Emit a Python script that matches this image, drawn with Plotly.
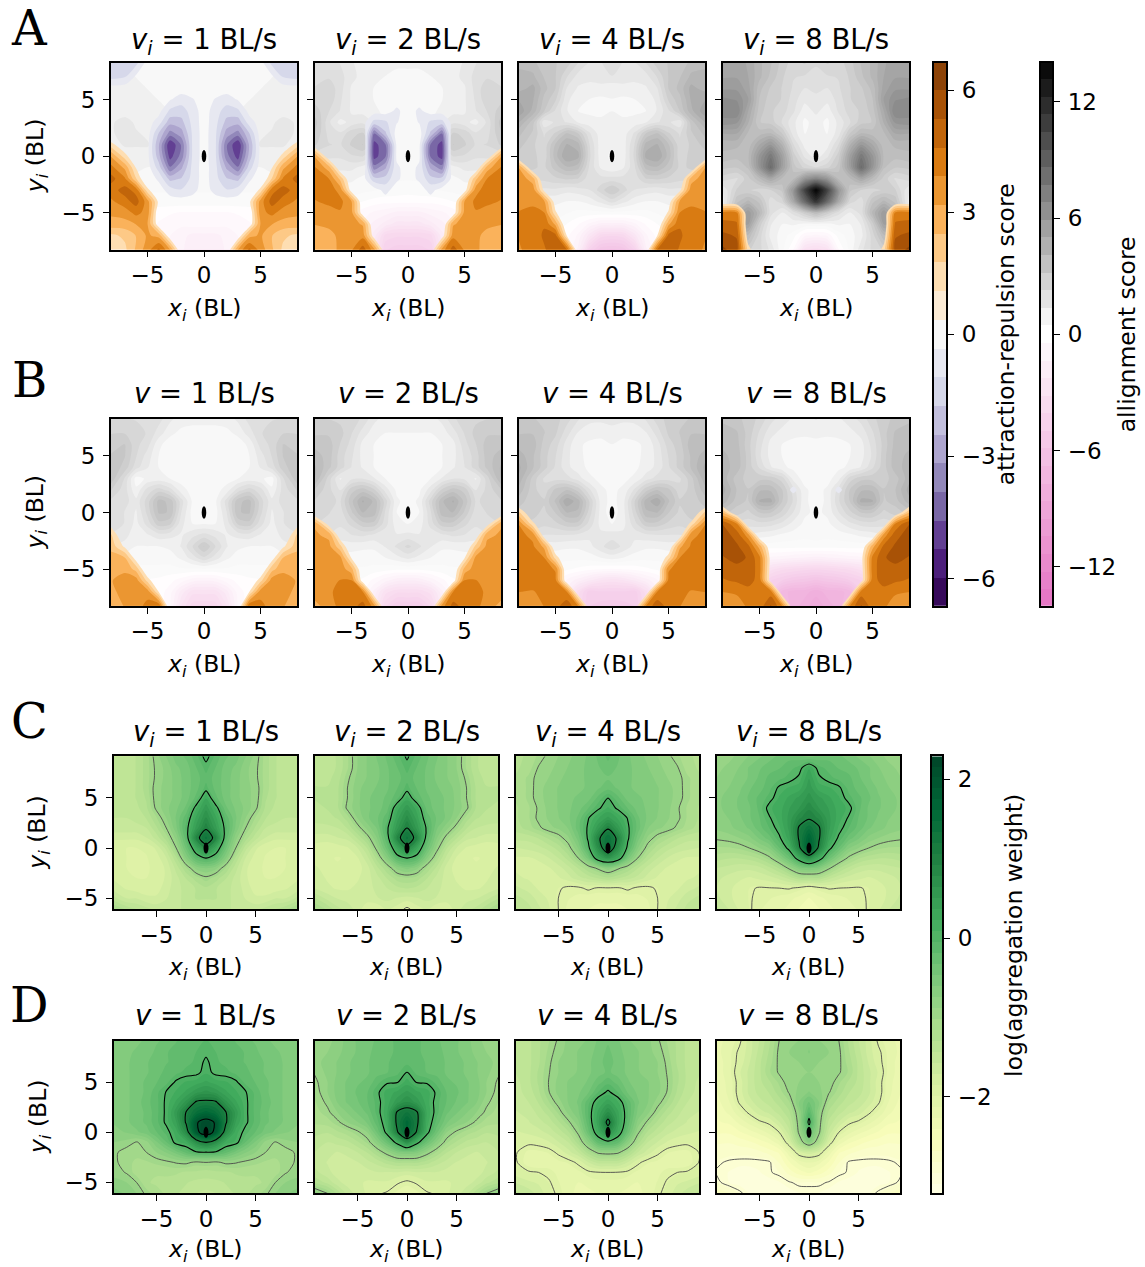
import numpy as np
import plotly.graph_objects as go

W, H = 1145, 1267
HP = 1263.8
V_LABELS = [1, 2, 4, 8]

# half grids (x >= 0), rows listed from top to bottom
X_AB = [0, 1, 2, 3, 4, 5, 6, 7, 8.3]
Y_AB = [8.3, 7, 6, 5, 4, 3, 2, 1, 0, -1, -2, -3, -4, -5, -6, -7, -8.3]
X_CD = [0, 1, 2, 3, 4, 5, 6, 7, 8, 9.3]
Y_CD = [9.2, 8, 7, 6, 5, 4, 3, 2, 1, 0, -1, -2, -3, -4, -5, -6.1]
O = [0, 0, 0, 0, 0, 0, 0, 0, 0]

A1_ALIGN = [[.6,.6,.7,.7,.8,.8,.8,.9,1],[.6,.7,.8,.8,.8,.9,.9,1,1],[.6,.7,.8,.8,.9,.9,1,1,1],[.6,.7,.8,.9,.9,1,1,1,1.1],
[.6,.7,.8,.9,1,1,1.2,1.2,1.2],[.6,.7,.9,1,1,1.2,1.3,1.5,1.3],[.6,.8,.9,1,1.2,1.3,1.4,1.5,1.3],[.6,.8,1,1.2,1.2,1.4,1.4,1.4,1.2],
[.6,.8,1,1.2,1.2,1.2,1.2,1.2,1.2],[.6,.7,.8,.9,.9,.9,1,1,1],[.5,.6,.6,.7,.7,.7,.8,.8,.8],[.5,.5,.5,.5,.5,.5,.5,.5,.5],
[.3,.3,.3,.3,.3,.3,.3,.3,.3],[-.5,-.5,-.5,-.4,-.3,-.2,0,0,0],[-.7,-.7,-.8,-.7,-.5,-.3,0,0,0],[-1.5,-1.5,-1.2,-.9,-.7,-.5,-.2,0,0],[-1.6,-1.6,-1.3,-1,-.7,-.5,-.2,0,0]]
A1_ATTR = [[0,0,0,0,0,-.1,-1.3,-1.5,-1.5],[0,0,0,0,0,0,-.2,-1.1,-1.3],O,[0,-.4,-.7,-.3,0,0,0,0,0],[0,-.7,-1.4,-1.2,-.1,0,0,0,0],
[0,-.8,-2,-2.2,-.7,0,0,0,0],[0,-.9,-2.8,-3.5,-1.8,0,0,0,0],[0,-.9,-3.8,-5.3,-2.4,-.1,0,.2,1.5],[0,-.9,-3.6,-4.9,-2.2,-.1,.1,1.4,3.2],
[0,-.8,-2.6,-3.8,-1.4,0,1,3,4.2],[0,-.8,-1.7,-2,-.5,.1,1.8,4,4.9],[0,-.6,-1,-.7,0,1.3,4.3,4.9,4.2],[0,0,0,0,.8,3.5,4.9,4.3,3.7],
[0,0,0,0,.2,3.6,4.1,3.5,3.3],[0,0,0,0,.4,3.2,3.2,2.9,2.9],[0,0,0,.3,2.9,3.3,2.5,1.9,1.6],[0,0,.2,3.3,4.8,3.6,2.6,1.6,1.2]]

A2_ALIGN = [[1,1,1,1,1.2,1.4,1.8,2,1.8],[.8,.8,.9,1,1.2,1.5,2,2.2,2],[.6,.7,.8,.9,1,1.3,2,2.6,2.3],[.5,.6,.8,.9,1,1.3,1.9,2.6,2.6],
[.5,.6,.8,1,1.2,1.3,1.8,2.3,3],[.5,.6,.9,1.3,1.7,1.5,1.2,1.9,3.5],[.5,.7,1.2,2,2.8,2.6,1.9,2.1,3.2],[.5,.7,1.2,2.2,3.2,2.8,2.2,2.3,2.8],
[.5,.6,1,1.6,2.3,2.2,1.9,1.9,2],[.5,.5,.7,1,1.2,1.5,1.5,1.5,1.5],[.5,.5,.6,.7,.8,1,1,1,1],[.2,.3,.4,.5,.6,.7,.7,.7,.7],
[-.3,-.3,-.3,-.2,0,.2,.3,.3,.3],[-1.5,-1.5,-1.2,-1,-.7,-.4,0,0,0],[-2.5,-2.5,-2,-1.5,-1,-.6,-.2,0,0],[-4,-4,-3.8,-2,-1.2,-.6,-.2,0,0],[-4.8,-4.8,-4.5,-2.4,-1.2,-.6,-.2,0,0]]
A2_ATTR = [O,O,O,O,[0,-.5,0,0,0,0,0,0,0],[0,-.4,-1.2,-1.3,0,0,0,0,0],[0,0,-1.9,-3.9,.7,0,0,0,0],[0,-.2,-4,-4.9,1,0,0,0,.5],
[0,-.2,-4,-4.9,1,0,0,.3,3.2],[0,-.5,-2.6,-3.6,.6,0,.2,2.8,4],[0,-.5,-1.5,-1.5,0,.1,2.3,3.9,4.4],[0,0,-.6,0,0,.6,3.6,4.3,4.2],
[0,0,0,0,.2,3.2,4.1,4.1,3.8],[0,0,0,0,.5,3.4,3.8,3.5,3.3],[0,0,0,0,3.1,3.4,3.4,3.3,3.2],[0,0,0,.5,3.6,3.8,3.3,3,2.7],[0,0,.3,3.5,5,3.8,3.3,2.9,2.7]]

A3_ALIGN = [[2,1.8,1.8,2.3,3,3.2,3.2,3.8,3.9],[1.8,1.6,1.5,1.6,2.3,3.2,3.6,4.2,4.3],[1,1.2,1.2,1.3,1.8,3.2,3.8,4.7,4.3],[.9,.8,.9,1,1.5,2.8,3.5,4.6,5],
[.9,.8,.8,.9,1.4,2.2,3.2,4.4,5.4],[1.2,1,1.1,1.3,1.8,1.9,1.5,3.4,4.6],[1.3,1.1,1.9,3.2,3.7,2.8,2.2,3.1,3.8],[1,1.1,2.3,4.3,4.6,3.7,2.4,2.8,3.4],
[.8,1.1,2.4,4.7,5,3.9,2.4,2.9,3],[1,1.3,2.2,3.8,4,3.4,2.6,2.8,2.9],[2,2,2,2.7,2.8,2.6,2.4,2.4,2.2],[3.2,2.5,1.8,1.6,1.5,1.7,1.7,1.7,1.5],
[2,1.5,1.1,.9,.9,1,1,1,1],[.3,.3,.3,.3,.5,.7,.7,.7,.7],[-1.5,-1.5,-1,-.4,0,.3,.5,.5,.5],[-4,-3.8,-2.5,-1,-.3,0,.2,.2,.2],[-6,-5.8,-4.5,-1.5,-.5,0,.2,.2,.2]]
A3_ATTR = [O,O,O,O,O,O,O,O,[0,0,0,0,0,0,0,0,.2],[0,0,0,0,0,0,0,0,3.4],[0,0,0,0,0,0,0,2.8,3.7],[0,0,0,0,0,0,.8,3.6,3.8],
[0,0,0,0,0,.5,3.3,3.7,3.7],[0,0,0,0,0,1.2,3.9,4.1,3.9],[0,0,0,0,0,3,4.5,4.2,3.9],[0,0,0,0,1,4.8,4.7,4.2,3.9],[0,0,0,.2,4.8,5,4.5,4.1,3.8]]

A4_ALIGN = [[2.3,2.8,2.5,3,3.7,4.2,4.9,5.3,5.3],[2.2,2.2,2.3,2.8,3.5,4.2,5,5.4,5.4],[2,1.8,2.2,2.7,3.1,3.8,5.2,5.8,5.8],[1.6,1.5,2,2.7,2.9,3.6,5.5,6.3,6.5],
[1.5,1.1,1.9,2.5,2.8,3.4,5,6.8,6.6],[1.1,.8,1.5,2.2,3,3.2,4.6,6,6.2],[1,.9,1.6,3.2,4.1,3.9,4,5,5],[1,1.2,2.3,4.5,6,5,3.8,4.2,4.2],
[1.1,1.7,3,5.5,7.6,6,4,3.8,4],[2.3,2.6,3.4,5.5,8.3,6,3.7,3.2,3.3],[7,6,4,4,5,4,3,2.2,2.5],[14,10.5,6,3.3,2.7,2.5,2.8,2.8,1.3],
[11.5,8.5,5,2.5,2,3.5,4.2,3.5,1],[4,3,2,1.3,2,4.2,5.8,4.5,1.6],[.8,.8,1,.9,1.4,3,5.5,5.5,3],[-1,-.8,.2,.7,1.2,2.5,4,4,3.5],[-3.5,-3,-.5,.6,1.7,2.4,2.8,3,3.2]]
A4_ATTR = [O,O,O,O,O,O,O,O,O,O,O,O,O,[0,0,0,0,0,0,0,4,4.2],[0,0,0,0,0,0,0,4.7,4.8],[0,0,0,0,0,0,.4,5.2,5.5],[0,0,0,0,0,0,1.5,5.6,6.2]]

B1_ALIGN = [[1,1,1.1,1.5,2,2.2,2.2,2.3,2.3],[.8,.8,.8,1,1.6,2.2,2.6,2.7,2.7],[.6,.6,.6,.7,1,2,2.4,3.2,3],[.6,.6,.6,.7,.9,1.6,2.3,3.2,3.2],
[.6,.6,.6,.7,.9,1.4,2,3,3.6],[.7,.7,.7,.9,1.1,1,.7,2.2,3.6],[.8,.7,1.1,2,2.5,2,1,2,2.8],[.7,.8,2,3.5,3.8,2.5,1.5,2,2.2],
[.5,.7,1.8,3.6,3.7,2.4,1.3,1.8,2],[.9,.9,1.5,2.8,3,2,1.2,1.8,2],[2,1.7,1.3,1.5,1.6,1.3,1.1,1.5,1.8],[3.2,2.3,1.4,1,.9,.9,.9,1.2,1.4],
[2.2,1.6,1,.7,.7,.7,.7,.7,.7],[.4,.4,.4,.3,.3,.3,.3,.3,.3],[-1.3,-1.2,-.7,-.3,-.1,0,0,0,0],[-3,-3,-2,-.7,-.2,0,0,0,0],[-4,-3.9,-2.8,-.8,-.2,0,0,0,0]]
B1_ATTR = [O,O,O,O,O,O,O,O,O,[0,0,0,0,0,0,0,0,.8],[0,0,0,0,0,0,0,0,2],[0,0,0,0,0,0,0,.9,2.3],[0,0,0,0,0,0,.6,2.5,2.7],
[0,0,0,0,0,0,2.2,3,2.9],[0,0,0,0,0,1.5,3.5,3.5,3.1],[0,0,0,0,1,3.6,3.5,3.4,3],[0,0,0,0,4.6,4.1,3.6,3.2,2.9]]

B2_ALIGN = [[1.2,1.1,1.2,1.5,2.2,2.5,2.6,2.7,2.7],[.9,.9,.9,1.1,1.6,2.3,2.9,3.1,3.1],[.7,.7,.7,.9,1.2,2.1,2.7,3.4,3.5],[.7,.7,.7,.9,1.2,1.9,2.5,3.4,3.9],
[.7,.7,.7,.9,1.3,1.8,2.5,3.3,4.2],[.8,.8,.9,1.4,1.8,1.7,1.3,2.5,4.2],[.8,.8,1.6,2.8,3.4,3,1.8,2.4,3.2],[.7,1,2.5,4,4.6,3.5,2.2,2.4,2.7],
[.5,.9,2.2,3.9,4.1,3.1,2,2.3,2.5],[.9,1.1,2,3,3,2.4,1.9,2.1,2.3],[1.5,1.4,1.5,1.7,1.9,1.8,1.6,1.8,2],[2.4,1.9,1.4,1,1,1.1,1.1,1.2,1.3],
[1.5,1.2,.9,.7,.7,.7,.7,.7,.7],[.1,.1,.2,.3,.4,.4,.4,.4,.4],[-1.8,-1.7,-1.2,-.6,-.1,.1,.2,.2,.2],[-3.5,-3.5,-3,-1.5,-.3,0,0,0,0],[-5,-5,-4,-2,-.5,0,0,0,0]]
B2_ATTR = [O,O,O,O,O,O,O,O,[0,0,0,0,0,0,0,0,.2],[0,0,0,0,0,0,0,.6,3.1],[0,0,0,0,0,0,.4,3,3.3],[0,0,0,0,0,0,2,3.4,3.5],
[0,0,0,0,0,1,3.4,3.5,3.6],[0,0,0,0,.1,2.7,3.6,3.6,3.6],[0,0,0,0,.5,3.9,3.9,3.6,3.6],[0,0,0,.1,3.9,4.3,4.2,3.7,3.5],[0,0,0,3.6,4.9,4.3,4.1,3.5,2.9]]

B3_ALIGN = [[1.6,1.5,1.5,1.9,2.5,2.9,3.1,3.2,3.2],[1.1,1,1.1,1.3,2,2.8,3.2,3.6,3.6],[.9,.8,.8,1,1.6,2.5,3,3.9,3.9],[.8,.7,.8,1,1.5,2.3,2.9,3.7,4.4],
[.7,.7,.8,1.1,1.5,2.2,2.9,3.7,4.7],[.7,.8,1,1.6,2,2.1,2.2,3,4.5],[.8,1,1.9,3,3.6,3.3,2.4,2.9,4],[.7,1.2,2.7,4.3,4.9,3.7,2.8,2.9,3.4],
[.6,1.2,2.5,4,4.1,3.2,2.6,2.9,3],[.9,1.2,2.1,3,3,2.6,2.4,2.6,2.6],[1.6,1.5,1.5,1.7,1.8,1.8,1.8,2,2],[2.1,1.7,1.2,1,1,1.1,1.1,1.2,1.2],
[1.1,.9,.7,.6,.6,.6,.6,.6,.6],[-.5,-.4,-.3,-.1,.1,.3,.3,.3,.3],[-3,-2.8,-2.2,-1.6,-1,-.2,0,0,0],[-4.6,-4.6,-4.8,-3.4,-1.6,-.3,0,0,0],[-5.3,-5.2,-5,-3.6,-1.8,-.3,0,0,0]]
B3_ATTR = [O,O,O,O,O,O,O,O,[0,0,0,0,0,0,0,0,2],[0,0,0,0,0,0,0,1.3,3.9],[0,0,0,0,0,0,.5,3.7,4.1],[0,0,0,0,0,.2,3,4,4.2],
[0,0,0,0,0,1.5,3.9,4.2,4.3],[0,0,0,0,.1,3.8,4.2,4.3,4.4],[0,0,0,0,.3,4.1,4.2,4.4,4.4],[0,0,0,.1,3.9,4.2,4.2,3.8,3.9],[0,0,.3,4,5.1,4.3,3.9,3.4,3.3]]

B4_ALIGN = [[1.4,1.2,1.3,1.6,2,2.6,3,3.3,3.6],[1,1,1,1.2,1.5,2.2,3,3.7,3.7],[.8,.7,.8,.9,1.2,2,2.9,3.8,4],[.7,.7,.7,.9,1.2,1.9,3,3.9,4.2],
[.7,.7,.8,1,1.4,2.2,3,3.9,4.3],[.7,.7,1.2,2.5,3,3,3,3.4,4.4],[.7,1,2,3.2,4,4,3.2,3.6,4.8],[.7,1,2.2,3.2,4.7,4.6,3.1,3.4,4.4],
[.8,1,1.8,2.6,3.2,3.2,2.6,2.9,3.4],[.7,.8,1.2,1.7,2,2.1,2,2.2,2.4],[.7,.6,.7,.8,1,1.1,1.3,1.4,1.4],[.2,.2,.2,.2,.2,.3,.3,.3,.3],
[-1.5,-1.4,-1.3,-1.1,-1,-.7,0,0,0],[-4,-3.9,-3.7,-3.5,-3,-2,0,0,0],[-6,-5.7,-5.5,-5,-4.5,-3,0,0,0],[-8,-7.5,-7.5,-7,-5,-3,0,0,0],[-8.5,-8,-7.5,-6.5,-5,-3,0,0,0]]
B4_ATTR = [O,O,O,O,O,O,[0,0,-.5,0,0,0,0,0,0],O,[0,0,0,0,0,0,0,0,2.5],[0,0,0,0,0,0,.2,3.9,5.3],[0,0,0,0,0,.2,3.5,5,5.7],[0,0,0,0,.2,2.9,4.8,5.4,5.6],
[0,0,0,0,.7,4.1,5.2,5.6,5.2],[0,0,0,0,.6,4.2,5.2,5,4.9],[0,0,0,0,.6,4.3,4.9,4.7,4.5],[0,0,0,.1,4.2,4.3,4.3,4,3.9],[0,0,.2,4,5.4,4.2,4,3.5,3.1]]

C1_WEIGHT = [[.1,-.2,-.4,-.5,-.7,-.9,-1.2,-1.4,-1.5,-1.5],[-.1,-.3,-.5,-.6,-.8,-.95,-1.2,-1.4,-1.5,-1.5],[-.2,-.35,-.5,-.65,-.8,-.95,-1.2,-1.4,-1.5,-1.5],
[-.1,-.35,-.5,-.65,-.8,-.9,-1.2,-1.4,-1.5,-1.5],[.25,-.25,-.5,-.65,-.8,-.9,-1.25,-1.4,-1.5,-1.5],[.5,.1,-.4,-.6,-.75,-.95,-1.3,-1.45,-1.5,-1.5],
[.7,.3,-.2,-.55,-.85,-1.15,-1.4,-1.5,-1.55,-1.55],[.95,.45,-.1,-.6,-1,-1.3,-1.55,-1.6,-1.6,-1.6],[1.3,.85,-.2,-.8,-1.2,-1.5,-1.7,-1.8,-1.8,-1.8],
[.8,.25,-.4,-1,-1.5,-1.8,-1.95,-1.97,-1.97,-1.95],[0,-.2,-.7,-1.3,-1.7,-1.9,-1.98,-1.98,-1.97,-1.95],[-.7,-.8,-1.15,-1.5,-1.8,-1.95,-1.98,-1.98,-1.97,-1.9],
[-1.05,-1.2,-1.4,-1.6,-1.8,-1.95,-1.97,-1.97,-1.95,-1.85],[-1.3,-1.4,-1.5,-1.6,-1.75,-1.9,-1.9,-1.9,-1.85,-1.75],[-1.4,-1.4,-1.5,-1.6,-1.7,-1.8,-1.8,-1.7,-1.7,-1.5],[-1.5,-1.5,-1.5,-1.6,-1.6,-1.6,-1.5,-1.4,-1.3,-1.1]]
C2_WEIGHT = [[.05,-.2,-.4,-.55,-.7,-.85,-1.15,-1.4,-1.45,-1.5],[-.1,-.3,-.45,-.6,-.7,-.85,-1.15,-1.4,-1.45,-1.5],[-.2,-.35,-.45,-.6,-.7,-.8,-1.05,-1.35,-1.45,-1.45],
[-.1,-.3,-.45,-.55,-.65,-.75,-1,-1.3,-1.4,-1.4],[.2,-.2,-.4,-.5,-.6,-.75,-1,-1.3,-1.4,-1.4],[.5,.2,-.35,-.5,-.6,-.75,-.95,-1.3,-1.4,-1.45],
[.75,.35,-.2,-.45,-.6,-.85,-1.2,-1.4,-1.45,-1.5],[1,.5,-.05,-.55,-.8,-1.1,-1.4,-1.55,-1.6,-1.6],[1.3,.85,-.15,-.7,-1.1,-1.4,-1.65,-1.7,-1.75,-1.75],
[.85,.3,-.35,-.9,-1.4,-1.7,-1.85,-1.9,-1.95,-1.9],[0,-.15,-.7,-1.2,-1.6,-1.85,-1.95,-1.98,-1.95,-1.9],[-.65,-.8,-1.15,-1.45,-1.75,-1.9,-1.95,-1.95,-1.9,-1.8],
[-1.15,-1.2,-1.4,-1.6,-1.75,-1.85,-1.9,-1.9,-1.85,-1.75],[-1.4,-1.45,-1.55,-1.65,-1.75,-1.8,-1.85,-1.85,-1.8,-1.7],[-1.75,-1.7,-1.65,-1.7,-1.75,-1.75,-1.75,-1.7,-1.6,-1.4],[-2.05,-1.9,-1.8,-1.95,-1.95,-1.75,-1.6,-1.5,-1.3,-1.1]]
C3_WEIGHT = [[-.25,-.4,-.55,-.65,-.75,-.85,-.95,-1.1,-1.25,-1.3],[-.35,-.45,-.55,-.6,-.7,-.8,-.9,-.98,-1.2,-1.3],[-.45,-.5,-.55,-.6,-.65,-.75,-.85,-.92,-1.1,-1.25],
[-.35,-.45,-.55,-.6,-.65,-.7,-.8,-.9,-1.1,-1.25],[0,-.25,-.5,-.55,-.6,-.7,-.8,-.9,-1.1,-1.25],[.15,-.05,-.3,-.5,-.6,-.7,-.8,-.97,-1.15,-1.3],
[.45,.25,-.02,-.4,-.6,-.72,-.83,-.95,-1.15,-1.3],[.95,.5,.05,-.35,-.7,-.82,-.9,-1.05,-1.2,-1.35],[1.4,.9,.05,-.5,-.88,-1.1,-1.25,-1.4,-1.5,-1.5],
[1.4,.7,-.1,-.7,-1.1,-1.35,-1.5,-1.6,-1.65,-1.7],[.55,.25,-.5,-1,-1.35,-1.55,-1.7,-1.8,-1.85,-1.85],[-.75,-.95,-1.15,-1.4,-1.6,-1.75,-1.85,-1.9,-1.9,-1.85],
[-1.3,-1.4,-1.5,-1.6,-1.75,-1.85,-1.9,-1.9,-1.85,-1.8],[-2.02,-2.03,-1.95,-2.05,-2.05,-1.97,-1.9,-1.85,-1.75,-1.65],[-2.2,-2.2,-2.2,-2.15,-2.1,-2,-1.85,-1.75,-1.6,-1.5],[-2.3,-2.3,-2.25,-2.2,-2.15,-2,-1.8,-1.65,-1.5,-1.4]]
C4_WEIGHT = [[-.5,-.4,-.35,-.4,-.5,-.6,-.7,-.8,-.9,-1],[.25,-.1,-.2,-.3,-.35,-.45,-.55,-.7,-.8,-.9],[.4,.05,-.1,-.2,-.25,-.4,-.55,-.65,-.75,-.85],
[.5,.2,.15,.05,-.2,-.35,-.45,-.6,-.7,-.8],[.6,.45,.3,.15,-.1,-.25,-.4,-.55,-.65,-.75],[.8,.55,.4,.2,.1,-.25,-.45,-.55,-.65,-.75],
[.95,.8,.45,.2,-.03,-.3,-.45,-.6,-.7,-.78],[1.35,1.05,.45,.1,-.15,-.35,-.55,-.65,-.75,-.82],[1.7,1.05,.35,-.05,-.35,-.55,-.75,-.85,-.92,-.97],
[1.8,.9,.1,-.3,-.7,-.85,-1,-1.1,-1.15,-1.15],[.7,.2,-.35,-.75,-1.05,-1.25,-1.35,-1.4,-1.4,-1.35],[-.55,-.65,-.95,-1.25,-1.45,-1.6,-1.65,-1.65,-1.6,-1.55],
[-1.3,-1.3,-1.5,-1.65,-1.75,-1.8,-1.85,-1.8,-1.75,-1.65],[-2.15,-2.05,-1.98,-2,-2.01,-2.02,-1.97,-1.9,-1.8,-1.7],[-2.4,-2.3,-2.2,-2.15,-2.1,-2.05,-1.98,-1.9,-1.8,-1.65],[-2.5,-2.4,-2.3,-2.2,-2.15,-2.1,-1.97,-1.85,-1.7,-1.5]]
D1_WEIGHT = [[-.15,-.15,-.2,-.3,-.4,-.45,-.55,-.6,-.65,-.65],[-.05,-.15,-.2,-.25,-.3,-.4,-.5,-.55,-.6,-.65],[.05,-.12,-.2,-.25,-.3,-.35,-.45,-.5,-.6,-.65],
[.1,-.08,-.1,-.2,-.25,-.35,-.45,-.5,-.6,-.65],[.3,.2,.15,.05,-.2,-.3,-.4,-.5,-.6,-.65],[.6,.5,.3,.15,.02,-.2,-.4,-.5,-.6,-.65],
[1.1,1.05,.6,.3,.05,-.2,-.35,-.5,-.6,-.65],[1.6,1.4,1.02,.5,.05,-.2,-.4,-.5,-.6,-.7],[2.2,1.95,1.05,.4,.05,-.2,-.4,-.5,-.6,-.7],
[2.3,1.85,.75,.2,-.1,-.3,-.5,-.6,-.7,-.75],[1,.7,.2,.1,-.3,-.6,-.9,-1.02,-.9,-.85],[-.02,-.05,-.25,-.5,-.7,-.85,-1,-1.1,-1.1,-.95],
[-1,-1.05,-.95,-.98,-1.05,-1.1,-1.15,-1.15,-1.1,-.95],[-1.35,-1.3,-1.3,-1.25,-1.25,-1.25,-1.25,-1.2,-1.02,-.9],[-1.45,-1.45,-1.4,-1.35,-1.3,-1.3,-1.25,-1,-.85,-.8],[-1.6,-1.55,-1.45,-1.4,-1.3,-1.2,-1.05,-.85,-.75,-.6]]
D2_WEIGHT = [[-.25,-.25,-.35,-.4,-.5,-.55,-.65,-.8,-.9,-.98],[-.25,-.25,-.35,-.4,-.45,-.55,-.65,-.75,-.85,-.95],[-.2,-.25,-.3,-.35,-.45,-.5,-.6,-.7,-.8,-.9],
[0,-.2,-.3,-.35,-.45,-.5,-.6,-.7,-.8,-.98],[.2,-.02,-.03,-.2,-.4,-.45,-.55,-.65,-.85,-1.05],[.45,.3,.2,-.05,-.3,-.4,-.55,-.65,-.85,-1.1],
[.7,.5,.2,-.1,-.3,-.45,-.55,-.7,-.95,-1.15],[1.25,1.05,.25,-.1,-.4,-.55,-.7,-.85,-1.05,-1.2],[1.6,1.1,.2,-.2,-.55,-.72,-.85,-1.05,-1.2,-1.25],
[1.5,.95,.1,-.4,-.85,-1.05,-1.2,-1.3,-1.4,-1.35],[.7,.1,-.35,-.75,-1.1,-1.3,-1.45,-1.5,-1.55,-1.5],[-.6,-.65,-.9,-1.15,-1.4,-1.55,-1.65,-1.7,-1.65,-1.55],
[-1.25,-1.25,-1.35,-1.5,-1.6,-1.7,-1.75,-1.75,-1.7,-1.6],[-1.75,-1.7,-1.7,-1.7,-1.75,-1.8,-1.8,-1.75,-1.65,-1.5],[-2.05,-1.97,-1.85,-1.85,-1.85,-1.8,-1.75,-1.65,-1.45,-1.3],[-2.25,-2.15,-2.03,-1.97,-1.85,-1.75,-1.6,-1.3,-1,-.75]]
D3_WEIGHT = [[-.45,-.55,-.7,-.75,-.8,-.97,-1.15,-1.3,-1.45,-1.5],[-.4,-.5,-.65,-.7,-.8,-.9,-1.1,-1.3,-1.45,-1.55],[-.35,-.5,-.6,-.7,-.8,-.85,-1.05,-1.3,-1.45,-1.55],
[-.4,-.5,-.6,-.7,-.75,-.85,-1.02,-1.25,-1.45,-1.55],[-.2,-.35,-.55,-.65,-.7,-.8,-1,-1.25,-1.45,-1.6],[.05,-.15,-.45,-.6,-.7,-.8,-1.02,-1.3,-1.5,-1.6],
[.35,.15,-.2,-.55,-.7,-.92,-1.15,-1.4,-1.55,-1.65],[.7,.3,-.15,-.6,-.8,-1.1,-1.35,-1.5,-1.65,-1.7],[1.15,.35,-.2,-.75,-1.05,-1.3,-1.5,-1.6,-1.7,-1.75],
[.7,.2,-.35,-.95,-1.3,-1.5,-1.65,-1.75,-1.8,-1.85],[-.1,-.25,-.75,-1.2,-1.55,-1.7,-1.85,-1.92,-1.95,-1.9],[-.9,-.95,-1.2,-1.55,-1.75,-1.95,-2.1,-2.15,-2.15,-1.98],
[-1.5,-1.5,-1.7,-1.95,-2.1,-2.15,-2.2,-2.25,-2.2,-1.97],[-2,-2.01,-2.05,-2.15,-2.2,-2.15,-2.05,-2,-1.97,-1.9],[-2.15,-2.15,-2.2,-2.25,-2.2,-2.1,-1.97,-1.85,-1.8,-1.7],[-2.25,-2.25,-2.3,-2.3,-2.2,-2.05,-1.9,-1.75,-1.6,-1.5]]
D4_WEIGHT = [[-.75,-.85,-.95,-1,-1.3,-1.55,-1.75,-2.05,-2.2,-2.3],[-.7,-.8,-.85,-.95,-1.25,-1.5,-1.75,-1.95,-2.15,-2.3],[-.8,-.85,-.9,-.95,-1.2,-1.45,-1.7,-1.92,-2.15,-2.35],
[-.85,-.9,-.9,-.97,-1.15,-1.45,-1.65,-1.85,-2.15,-2.35],[-.8,-.85,-.9,-1.1,-1.3,-1.45,-1.65,-1.9,-2.2,-2.35],[-.7,-.8,-.98,-1.2,-1.4,-1.5,-1.65,-1.9,-2.2,-2.4],
[-.4,-.7,-1.15,-1.35,-1.5,-1.6,-1.75,-1.97,-2.25,-2.45],[-.15,-.85,-1.3,-1.5,-1.65,-1.75,-1.95,-2.15,-2.35,-2.5],[.1,-.9,-1.45,-1.7,-1.95,-2.05,-2.2,-2.35,-2.5,-2.55],
[-.3,-.95,-1.6,-2,-2.2,-2.35,-2.45,-2.55,-2.65,-2.65],[-.7,-1.2,-1.85,-2.3,-2.5,-2.6,-2.7,-2.75,-2.8,-2.8],[-1.75,-1.85,-2.3,-2.65,-2.75,-2.85,-2.9,-2.9,-2.9,-2.85],
[-2.25,-2.35,-2.55,-2.8,-3.03,-3.05,-3.05,-3.05,-3.03,-2.97],[-2.5,-2.6,-2.75,-2.95,-3.02,-3.1,-3.15,-3.15,-3.1,-3.02],[-2.97,-2.95,-3.02,-3.1,-3.15,-3.2,-3.2,-3.15,-3.1,-2.95],[-3.05,-3.1,-3.15,-3.2,-3.2,-3.15,-3.1,-2.95,-2.8,-2.7]]

ATTR_MAX, ALIGN_MAX = 6.7, 14.07
WEIGHT_MIN, WEIGHT_MAX = -3.23, 2.3
ATTR_TICKS, ALIGN_TICKS, WEIGHT_TICKS = [-6, -3, 0, 3, 6], [-12, -6, 0, 6, 12], [-2, 0, 2]
LOW_LINES, HIGH_LINES = (-3, -1), (0, 2)

PUOR = ["#2d004b", "#542788", "#8073ac", "#b2abd2", "#d8daeb", "#f7f7f7", "#fee0b6", "#fdb863", "#e08214", "#b35806", "#7f3b08"]
YLGN = ["#ffffe5", "#f7fcb9", "#d9f0a3", "#addd8e", "#78c679", "#41ab5d", "#238443", "#006837", "#004529"]
FONT = "DejaVu Sans"
NONE = "rgba(255,255,255,0)"


def rgb(h):
    return np.array([int(h[i:i + 2], 16) for i in (1, 3, 5)], float)


def css(c):
    return "rgb(%d,%d,%d)" % tuple(np.round(c))


def sample(colors, t):
    p = t * (len(colors) - 1)
    i = min(int(p), len(colors) - 2)
    return rgb(colors[i]) * (1 - (p - i)) + rgb(colors[i + 1]) * (p - i)


def scale(cols):
    n = len(cols) - 1
    return [[k / n, c] for k, c in enumerate(cols)]


def align_colour(v):
    if v > 0:
        g = np.clip(244 - 18.3 * (v - .9), 8, 250)
        return css(np.array([g, g, g]))
    f = min(-v / 14, 1)
    return css(np.array([255, 255, 255]) * (1 - f) + np.array([229, 116, 195]) * f)


N_ATTR, N_ALIGN = 19, 31
attr_step, align_step = 2 * ATTR_MAX / N_ATTR, 2 * ALIGN_MAX / N_ALIGN
align_half = align_step / 2
attr_bar = [css(sample(PUOR, (k + .5) / N_ATTR)) for k in range(N_ATTR)]
orange_fill = [NONE] + attr_bar[11:]
purple_fill = [NONE] + attr_bar[8::-1]
align_centers = [-ALIGN_MAX + align_step * (k + .5) for k in range(N_ALIGN)]
align_bar = [align_colour(v) if abs(v) > .1 else "rgb(255,255,255)" for v in align_centers]
align_fill = [align_colour(-ALIGN_MAX + align_half * (k + .5)) for k in range(2 * N_ALIGN)]
weight_scale = scale(YLGN)

fig = go.Figure()
layout = {}
shapes = []
annots = []
ax_count = [0]


def text(x, y, s, size=23.5, angle=0, family=FONT):
    annots.append(dict(x=x / W, y=1 - y / HP, xref="paper", yref="paper", text=s, showarrow=False,
                       font=dict(size=size, family=family, color="black"), textangle=angle,
                       xanchor="center", yanchor="middle"))


def axes(x0, x1, y0, y1, xr, yr, xt, yt, show_x=True, show_y=False, ticks=True, side="left"):
    ax_count[0] += 1
    n = ax_count[0]
    xn, yn = ("x%d" % n, "y%d" % n)
    base = dict(showgrid=False, zeroline=False, showline=True, mirror=True, linecolor="black", linewidth=1.5,
                ticks="outside", ticklen=6, tickwidth=1.4, tickcolor="black",
                tickfont=dict(size=23, family=FONT, color="black"))
    layout["xaxis%d" % n] = dict(base, domain=[(x0 + .7) / W, (x1 - .7) / W], range=xr, anchor=yn, tickvals=xt,
                                 showticklabels=show_x, ticks="outside" if ticks else "", ticklabelstandoff=-2)
    layout["yaxis%d" % n] = dict(base, domain=[1 - (y1 - .7) / HP, 1 - (y0 + .7) / HP], range=yr, anchor=xn, tickvals=yt,
                                 showticklabels=show_y, side=side, ticklabelstandoff=3)
    return xn, yn


def whole(half):
    a = np.array(half, float)[::-1]
    return np.hstack([a[:, :0:-1], a])


def coords(hx, hy):
    hx = np.array(hx, float)
    return np.concatenate([-hx[:0:-1], hx]), np.array(hy, float)[::-1]


def focal(xn, yn, rx, ry):
    shapes.append(dict(type="circle", xref=xn, yref=yn, x0=-rx, x1=rx, y0=-ry, y1=ry,
                       fillcolor="black", line=dict(width=0)))


def banded(x, y, z, xn, yn, start, end, size, cols, smooth=.8):
    fig.add_trace(go.Contour(x=x, y=y, z=z, xaxis=xn, yaxis=yn, showscale=False, hoverinfo="skip", autocontour=False,
                             contours=dict(coloring="fill", start=start, end=end, size=size, showlines=False),
                             line=dict(width=0, smoothing=smooth), colorscale=scale(cols)))


XA, YA = coords(X_AB, Y_AB)
XC, YC = coords(X_CD, Y_CD)
AB_X = [(110, 298), (314, 502), (518, 706), (722, 910)]
AB_ROWS = [(62, 250, "A", "<i>v<sub>i</sub></i>", 21, 34, [A1_ALIGN, A2_ALIGN, A3_ALIGN, A4_ALIGN], [A1_ATTR, A2_ATTR, A3_ATTR, A4_ATTR]),
           (418, 606, "B", "<i>v</i>", 25, 38, [B1_ALIGN, B2_ALIGN, B3_ALIGN, B4_ALIGN], [B1_ATTR, B2_ATTR, B3_ATTR, B4_ATTR])]
for top, bottom, letter, vname, dy, ly, aligns, attrs in AB_ROWS:
    for c, ((x0, x1), al, at) in enumerate(zip(AB_X, aligns, attrs)):
        xn, yn = axes(x0, x1, top, bottom, [-8.25, 8.25], [-8.25, 8.25], [-5, 0, 5], [-5, 0, 5], show_y=c == 0)
        banded(XA, YA, whole(al), xn, yn, -ALIGN_MAX + align_half, ALIGN_MAX - align_half + .01, align_half, align_fill)
        za = whole(at)
        banded(XA, YA, za, xn, yn, 1.5 * attr_step, ATTR_MAX - attr_step + .02, attr_step, orange_fill)
        banded(XA, YA, -za, xn, yn, .5 * attr_step, ATTR_MAX - attr_step + .02, attr_step, purple_fill)
        focal(xn, yn, .2, .55)
        text((x0 + x1) / 2, top - dy, "%s = %d BL/s" % (vname, V_LABELS[c]), size=27.5)
        text((x0 + x1) / 2, bottom + 59, "<i>x<sub>i</sub></i> (BL)")
    text(36, (top + bottom) / 2, "<i>y<sub>i</sub></i> (BL)", angle=-90)
    text(29, top - ly, letter, size=48, family="DejaVu Serif")

CD_X = [(113, 298), (314, 499), (515, 700), (716, 901)]
CD_ROWS = [(755, 909, "C", "<i>v<sub>i</sub></i>", 22, 59, [C1_WEIGHT, C2_WEIGHT, C3_WEIGHT, C4_WEIGHT]),
           (1039, 1193, "D", "<i>v</i>", 25, 56, [D1_WEIGHT, D2_WEIGHT, D3_WEIGHT, D4_WEIGHT])]
for top, bottom, letter, vname, dy, xl, weights in CD_ROWS:
    for c, ((x0, x1), w) in enumerate(zip(CD_X, weights)):
        xn, yn = axes(x0, x1, top, bottom, [-9.3, 9.2], [-6.1, 9.15], [-5, 0, 5], [-5, 0, 5], show_y=c == 0)
        z = whole(w)
        fig.add_trace(go.Contour(x=XC, y=YC, z=z, xaxis=xn, yaxis=yn, showscale=False, hoverinfo="skip",
                                 autocontour=False, contours=dict(coloring="fill", start=WEIGHT_MIN, end=WEIGHT_MAX, size=.14, showlines=False),
                                 line=dict(width=0), colorscale=weight_scale))
        for (lo, hi), col, lw in ((LOW_LINES, "#4a4a4a", .9), (HIGH_LINES, "#000000", 1.1)):
            fig.add_trace(go.Contour(x=XC, y=YC, z=z, xaxis=xn, yaxis=yn, showscale=False, hoverinfo="skip",
                                     autocontour=False, contours=dict(coloring="none", start=lo, end=hi, size=1),
                                     line=dict(color=col, width=lw, smoothing=.8)))
        focal(xn, yn, .25, .55)
        text((x0 + x1) / 2, top - dy, "%s = %d BL/s" % (vname, V_LABELS[c]), size=27.5)
        text((x0 + x1) / 2, bottom + xl, "<i>x<sub>i</sub></i> (BL)")
    text(39, (top + bottom) / 2, "<i>y<sub>i</sub></i> (BL)", angle=-90)
    text(29, top - 35, letter, size=48, family="DejaVu Serif")


def bar(x0, x1, y0, y1, vmin, vmax, ticks, colors, centers, label, label_x, label_y):
    pad = .002 * (vmax - vmin)
    xn, yn = axes(x0, x1, y0, y1, [-.5, .5], [vmin + pad, vmax - pad], [], ticks, show_x=False, show_y=True, ticks=False, side="right")
    fig.add_trace(go.Heatmap(x=[0], y=centers, z=[[i] for i in range(len(colors))], xaxis=xn, yaxis=yn, showscale=False,
                             hoverinfo="skip", zmin=0, zmax=len(colors) - 1, colorscale=scale(colors)))
    text(label_x, label_y, label, angle=-90)


attr_centers = [-ATTR_MAX + attr_step * (k + .5) for k in range(N_ATTR)]
weight_colors = [css(sample(YLGN, (k + .5) / 40)) for k in range(40)]
weight_centers = [WEIGHT_MIN + (WEIGHT_MAX - WEIGHT_MIN) * (k + .5) / 40 for k in range(40)]
bar(933, 947, 62, 606, -ATTR_MAX, ATTR_MAX, ATTR_TICKS, attr_bar, attr_centers, "attraction-repulsion score", 1006, 334)
bar(1040, 1053, 62, 606, -ALIGN_MAX, ALIGN_MAX, ALIGN_TICKS, align_bar, align_centers, "allignment score", 1127, 334)
bar(931, 943, 755, 1193, WEIGHT_MIN, WEIGHT_MAX, WEIGHT_TICKS, weight_colors, weight_centers, "log(aggregation weight)", 1014, 935)

fig.update_layout(width=W, height=H, margin=dict(l=0, r=0, t=0, b=0), paper_bgcolor="white", plot_bgcolor="white",
                  showlegend=False, shapes=shapes, annotations=annots, **layout)
fig.write_html("out.html", config={"displayModeBar": False},
               post_script="document.body.style.margin='0';document.body.style.overflow='hidden';")
